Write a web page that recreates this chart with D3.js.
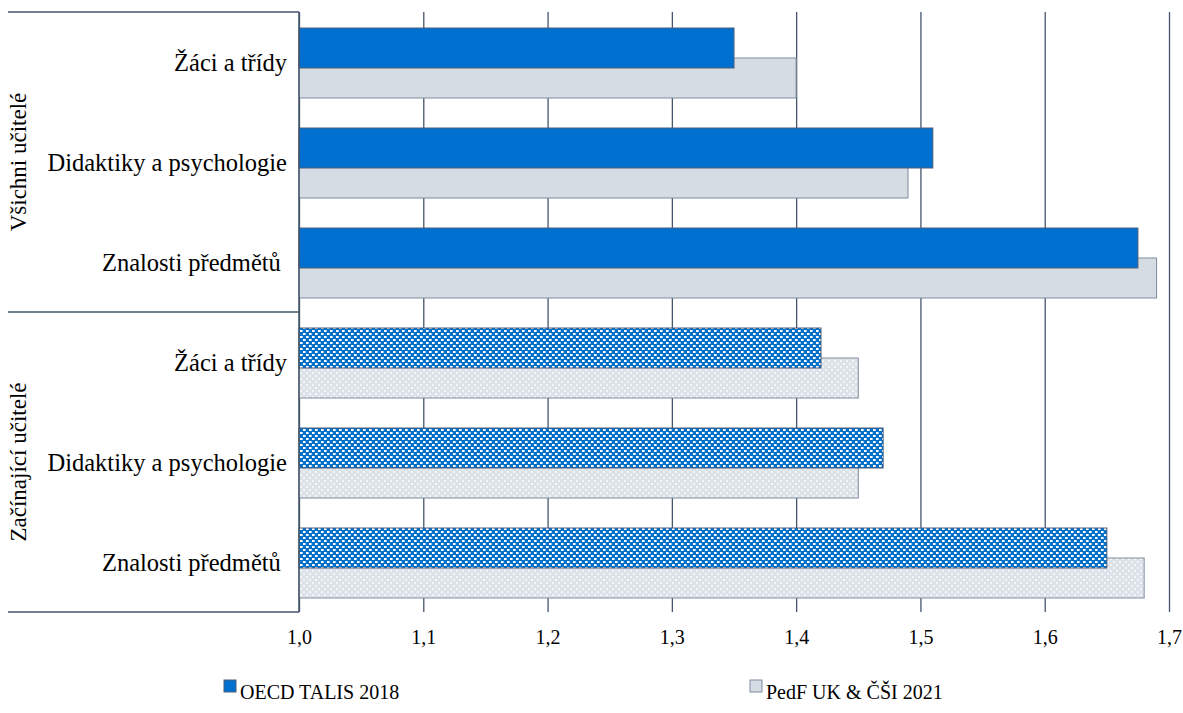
<!DOCTYPE html>
<html>
<head>
<meta charset="utf-8">
<script src="https://cdn.jsdelivr.net/npm/d3@7"></script>
<style>
  html, body { margin: 0; padding: 0; background: #fff; }
  svg { display: block; }
  text { font-family: "Liberation Serif", "Times New Roman", serif; fill: #000; }
</style>
</head>
<body>
<svg id="chart" width="1183" height="713"></svg>
<script>
// ---- data ----
const groups = ["Všichni učitelé", "Začínající učitelé"];
const categories = ["Žáci a třídy", "Didaktiky a psychologie", "Znalosti předmětů\u00A0"];
const seriesNames = ["OECD TALIS 2018", "PedF UK & ČŠI 2021"];
// rows: group 0 (3 categories), then group 1 (3 categories)
const oecd = [1.35, 1.51, 1.675, 1.42, 1.47, 1.65];
const pedf = [1.40, 1.49, 1.69, 1.45, 1.45, 1.68];
const tickValues = [1.0, 1.1, 1.2, 1.3, 1.4, 1.5, 1.6, 1.7];

// ---- layout ----
const svg = d3.select("#chart");
const pLeft = 299, pRight = 1169, pTop = 12, pBottom = 612;
const gridColor = "#44546A";

const x = d3.scaleLinear().domain([1.0, 1.7]).range([pLeft, pRight]);
const rows = d3.range(groups.length * categories.length);
const y = d3.scaleBand().domain(rows).range([pTop, pBottom]).padding(0);

// patterns
const defs = svg.append("defs");
const pb = defs.append("pattern").attr("id", "bluePat").attr("patternUnits", "userSpaceOnUse")
  .attr("width", 6).attr("height", 6);
pb.append("rect").attr("width", 6).attr("height", 6).attr("fill", "#0070C8");
[[0,0],[3,3]].forEach(([a,b]) => {
  pb.append("rect").attr("x", a).attr("y", b).attr("width", 2).attr("height", 2).attr("fill", "#ffffff");
  pb.append("rect").attr("x", a+2).attr("y", b).attr("width", 1).attr("height", 2).attr("fill", "#9cc6ef");
});
const pg = defs.append("pattern").attr("id", "grayPat").attr("patternUnits", "userSpaceOnUse")
  .attr("width", 6).attr("height", 6);
pg.append("rect").attr("width", 6).attr("height", 6).attr("fill", "#DDE2E9");
[[0,0],[3,3]].forEach(([a,b]) => {
  pg.append("rect").attr("x", a).attr("y", b).attr("width", 2).attr("height", 2).attr("fill", "#F3F5F8");
});

// gridlines via axis
const gridAxis = d3.axisBottom(x).tickValues(tickValues).tickSize(-(pBottom - pTop)).tickFormat("");
const gg = svg.append("g").attr("transform", `translate(0,${pBottom})`).call(gridAxis);
gg.select(".domain").remove();
gg.selectAll("line").attr("stroke", gridColor).attr("stroke-width", 1.3);

// bars
const barH = 40;
const bars = svg.append("g");
rows.forEach(i => {
  const c = y(i) + y.bandwidth() / 2;
  const patterned = i >= categories.length;
  // PedF (drawn first, below)
  bars.append("rect")
    .attr("x", x(1.0)).attr("y", c - 4)
    .attr("width", x(pedf[i]) - x(1.0)).attr("height", barH)
    .attr("fill", patterned ? "url(#grayPat)" : "#D6DCE4")
    .attr("stroke", "#7F8C9F").attr("stroke-width", 1);
  // OECD
  bars.append("rect")
    .attr("x", x(1.0)).attr("y", c - 34)
    .attr("width", x(oecd[i]) - x(1.0)).attr("height", barH)
    .attr("fill", patterned ? "url(#bluePat)" : "#0070D0")
    .attr("stroke", "#4F5F78").attr("stroke-width", 1);
});

// axis line (left) and group separators
svg.append("line").attr("x1", pLeft).attr("x2", pLeft).attr("y1", pTop).attr("y2", pBottom)
  .attr("stroke", gridColor).attr("stroke-width", 1.5);
[0, 1, 2].forEach(k => {
  const yy = pTop + k * (pBottom - pTop) / 2;
  svg.append("line").attr("x1", 8).attr("x2", pLeft).attr("y1", yy).attr("y2", yy)
    .attr("stroke", gridColor).attr("stroke-width", 1.5);
});

// tick labels
const tickAxis = d3.axisBottom(x).tickValues(tickValues).tickSize(0)
  .tickFormat(d => d3.format(".1f")(d).replace(".", ","));
const ta = svg.append("g").attr("transform", `translate(0,${pBottom})`).call(tickAxis);
ta.select(".domain").remove();
ta.attr("font-family", null).attr("font-size", null);
ta.selectAll("text").attr("font-size", 20).attr("dy", 0).attr("y", 32)
  .style("font-family", '"Liberation Serif", "Times New Roman", serif').attr("fill", "#000");

// category labels
rows.forEach(i => {
  const c = y(i) + y.bandwidth() / 2;
  svg.append("text").attr("x", 287).attr("y", c).attr("dy", "0.35em")
    .attr("text-anchor", "end").attr("font-size", 24.5)
    .text(categories[i % categories.length]);
});

// group labels
groups.forEach((g, k) => {
  const cy = pTop + (k + 0.5) * (pBottom - pTop) / 2;
  svg.append("text").attr("transform", `translate(26,${cy}) rotate(-90)`)
    .attr("text-anchor", "middle").attr("font-size", 23).text(g);
});

// legend
const legendItems = [
  { name: seriesNames[0], fill: "#0070D0", stroke: "#4F5F78", x: 224 },
  { name: seriesNames[1], fill: "#D6DCE4", stroke: "#7F8C9F", x: 750 }
];
legendItems.forEach(l => {
  svg.append("rect").attr("x", l.x).attr("y", 680).attr("width", 12).attr("height", 12)
    .attr("fill", l.fill).attr("stroke", l.stroke).attr("stroke-width", 1);
  svg.append("text").attr("x", l.x + 16).attr("y", 699).attr("font-size", 20).text(l.name);
});
</script>
</body>
</html>
